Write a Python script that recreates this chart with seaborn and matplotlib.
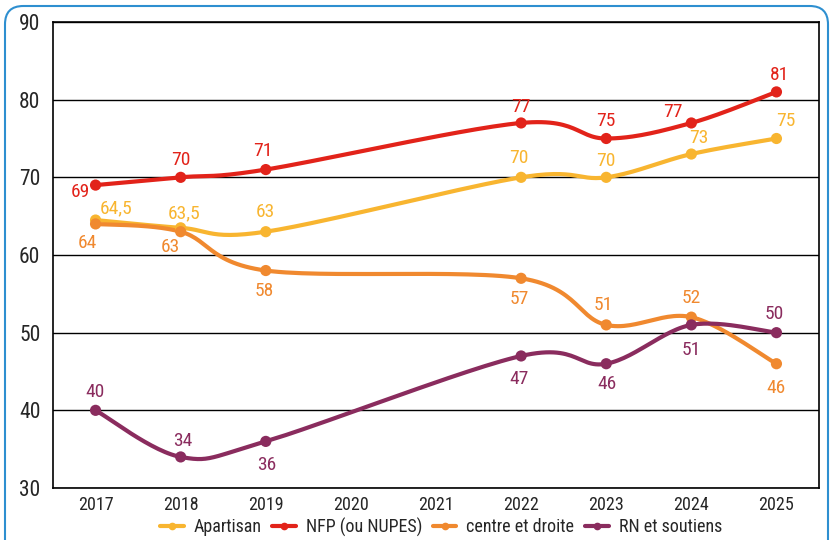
import numpy as np
import pandas as pd
import matplotlib
matplotlib.use("Agg")
import matplotlib.pyplot as plt
from matplotlib.lines import Line2D
from matplotlib.patches import FancyBboxPatch
import seaborn as sns

years = [2017, 2018, 2019, 2022, 2023, 2024, 2025]
series = ["Apartisan", "NFP (ou NUPES)", "centre et droite", "RN et soutiens"]
apartisan = [64.5, 63.5, 63, 70, 70, 73, 75]
nfp = [69, 70, 71, 77, 75, 77, 81]
centre = [64, 63, 58, 57, 51, 52, 46]
rn = [40, 34, 36, 47, 46, 51, 50]
colors = ["#F8B530", "#E2231A", "#F0892F", "#8A2C5E"]

# label position relative to its point, in pixels (x right, y up)
offsets = {
    "Apartisan": [(21, 12), (3, 14), (0, 20), (-2, 19), (0, 16), (7, 16), (9, 17)],
    "NFP (ou NUPES)": [(-15, -7), (0, 17), (-3, 19), (0, 16), (0, 17), (-18, 11), (3, 17)],
    "centre et droite": [(-8, -19), (-10, -15), (-2, -20), (-2, -21), (-3, 20), (0, 19), (0, -24)],
    "RN et soutiens": [(-1, 18), (2, 16), (1, -24), (-2, -23), (1, -20), (0, -25), (-2, 19)],
}
values = {"Apartisan": apartisan, "NFP (ou NUPES)": nfp,
          "centre et droite": centre, "RN et soutiens": rn}


def smooth(xs, ys, n=30):
    # excel-like smoothed line (catmull-rom as bezier)
    p = np.column_stack([xs, ys]).astype(float)
    p = np.vstack([p[0], p, p[-1]])
    out = []
    t = np.linspace(0, 1, n)[:, None]
    for i in range(1, len(p) - 2):
        a, b = p[i], p[i + 1]
        c1 = a + (p[i + 1] - p[i - 1]) / 6
        c2 = b - (p[i + 2] - p[i]) / 6
        seg = (1 - t) ** 3 * a + 3 * (1 - t) ** 2 * t * c1 + 3 * (1 - t) * t ** 2 * c2 + t ** 3 * b
        out.append(seg if i == 1 else seg[1:])
    return np.vstack(out)


sns.set_style("white")
plt.rcParams["font.family"] = ["Roboto Condensed", "DejaVu Sans"]

fig = plt.figure(figsize=(8.31, 5.40), dpi=100)
ax = fig.add_axes([53 / 831, 52 / 540, 766 / 831, 466 / 540])

rows = []
pts = []
for name in series:
    path = smooth(years, values[name])
    for k, (x, y) in enumerate(path):
        rows.append({"serie": name, "x": x, "y": y, "k": k})
    for x, y in zip(years, values[name]):
        pts.append({"serie": name, "x": x, "y": y})
curves = pd.DataFrame(rows)
points = pd.DataFrame(pts)
pal = dict(zip(series, colors))

for name in series:
    sub = curves[curves["serie"] == name]
    sns.lineplot(data=sub, x="x", y="y", color=pal[name], sort=False,
                 estimator=None, linewidth=3, ax=ax, legend=False)
sns.scatterplot(data=points, x="x", y="y", hue="serie", palette=pal, s=65,
                edgecolor="none", ax=ax, legend=False, zorder=3)

for name in series:
    for x, y, (dx, dy) in zip(years, values[name], offsets[name]):
        txt = f"{y:g}".replace(".", ",")
        ax.annotate(txt, (x, y), xytext=(dx * 0.72, dy * 0.72), textcoords="offset points",
                    ha="center", va="center", fontsize=14, color=pal[name])

ax.set_xlim(2016.5, 2025.5)
ax.set_ylim(30, 90)
ax.set_xticks(range(2017, 2026))
ax.set_yticks(range(30, 91, 10))
ax.yaxis.grid(True, color="black", linewidth=1)
ax.set_axisbelow(True)
for s in ax.spines.values():
    s.set_color("black")
    s.set_linewidth(1.2)
ax.tick_params(axis="y", labelsize=15.5, length=0, pad=9)
ax.tick_params(axis="x", labelsize=13, length=0, pad=6)
ax.set_xlabel("")
ax.set_ylabel("")

handles = [Line2D([], [], color=c, linewidth=3, marker="o", markersize=4.5) for c in colors]
fig.legend(handles, series, loc="center", bbox_to_anchor=(441 / 831, 1 - 527 / 540), ncol=4,
           frameon=False, fontsize=13, handlelength=1.3, handletextpad=0.55,
           columnspacing=0.6, borderpad=0, borderaxespad=0)

frame = FancyBboxPatch((5 / 831, -20 / 540), 823 / 831, 554 / 540,
                       boxstyle="round,pad=0,rounding_size=0.022",
                       transform=fig.transFigure, fill=False,
                       edgecolor="#2E8FD0", linewidth=1.5, mutation_aspect=831 / 540)
fig.patches.append(frame)

fig.savefig("out.png", dpi=100)
